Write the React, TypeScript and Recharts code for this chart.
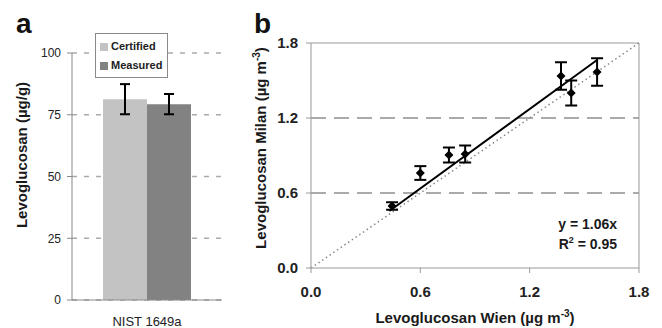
import {
  BarChart,
  Bar,
  ErrorBar,
  XAxis,
  YAxis,
  CartesianGrid,
  Legend,
  ScatterChart,
  Scatter,
  ReferenceLine
} from 'recharts'

const FONT = '"Liberation Sans", Arial, sans-serif'

// panel a
const categories = ['NIST 1649a']
const certified = [81.3]
const certifiedErr = [6.1]
const measured = [79.3]
const measuredErr = [4.1]
const barTicks = [0, 25, 50, 75, 100]

// panel b
const wien = [0.445, 0.6, 0.757, 0.846, 1.372, 1.428, 1.57]
const milan = [0.496, 0.76, 0.904, 0.912, 1.536, 1.4, 1.568]
const milanErr = [0.03, 0.055, 0.06, 0.068, 0.11, 0.1, 0.11]
const fitX = [0.43, 1.57]
const slope = 1.06
const scatterTicks = [0, 0.6, 1.2, 1.8]

const barData = categories.map((name, i) => ({
  name,
  certified: certified[i],
  certErr: certifiedErr[i],
  measured: measured[i],
  measErr: measuredErr[i]
}))

const points = wien.map((x, i) => ({ x, y: milan[i], err: milanErr[i] }))
const fitLine = fitX.map((x) => ({ x, y: slope * x }))

const Diamond = (props: any) => {
  const { cx, cy } = props
  if (cx == null || cy == null) return <g />
  const r = 4.5
  return <polygon points={`${cx},${cy - r} ${cx + r},${cy} ${cx},${cy + r} ${cx - r},${cy}`} fill="#000" />
}

const LegendBox = (props: any) => {
  const items = props.payload ?? []
  return (
    <div
      style={{
        border: '1px solid #8a8a8a',
        background: '#fff',
        padding: '3px 5px 2px 4px',
        fontFamily: FONT,
        fontSize: 11,
        fontWeight: 'bold',
        color: '#222',
        lineHeight: '19px'
      }}
    >
      {items.map((it: any) => (
        <div key={it.value} style={{ display: 'flex', alignItems: 'center' }}>
          <span style={{ width: 8, height: 8, background: it.color, display: 'inline-block', marginRight: 3 }} />
          {it.value}
        </div>
      ))}
    </div>
  )
}

export default function App() {
  return (
    <div
      style={{
        position: 'absolute',
        left: 0,
        top: 0,
        width: 662,
        height: 328,
        overflow: 'hidden',
        background: '#fff',
        fontFamily: FONT
      }}
    >
      <div style={{ position: 'absolute', left: 0, top: 0 }}>
        <BarChart
          width={230}
          height={328}
          data={barData}
          margin={{ top: 53, right: 8, bottom: 8, left: 42 }}
          barCategoryGap={31}
          barGap={0}
        >
          <CartesianGrid vertical={false} stroke="#aaa" strokeWidth={1.5} strokeDasharray="5 7" />
          <XAxis
            dataKey="name"
            height={20}
            tickSize={0}
            tickMargin={17}
            axisLine={{ stroke: '#888' }}
            tick={{ fontSize: 13, fill: '#222', fontFamily: FONT }}
          />
          <YAxis
            width={30}
            domain={[0, 100]}
            ticks={barTicks}
            tickSize={5}
            tickMargin={6}
            axisLine={{ stroke: '#888' }}
            tickLine={{ stroke: '#888' }}
            tick={{ fontSize: 12, fill: '#222', fontFamily: FONT }}
          />
          <YAxis
            yAxisId="r"
            orientation="right"
            width={0}
            domain={[0, 100]}
            tick={false}
            tickLine={false}
            axisLine={{ stroke: '#aaa' }}
          />
          <Legend
            layout="vertical"
            align="center"
            verticalAlign="middle"
            content={<LegendBox />}
            wrapperStyle={{ left: 95, top: 33, width: 'auto', height: 'auto' }}
          />
          <Bar dataKey="certified" name="Certified" fill="#c3c3c3" isAnimationActive={false}>
            <ErrorBar dataKey="certErr" width={5} strokeWidth={2} stroke="#000" />
          </Bar>
          <Bar dataKey="measured" name="Measured" fill="#828282" isAnimationActive={false}>
            <ErrorBar dataKey="measErr" width={5} strokeWidth={2} stroke="#000" />
          </Bar>
        </BarChart>
      </div>

      <div style={{ position: 'absolute', left: 230, top: 0 }}>
        <ScatterChart width={432} height={328} margin={{ top: 43, right: 23, bottom: 30, left: 36 }}>
          <XAxis
            type="number"
            dataKey="x"
            domain={[0, 1.8]}
            ticks={scatterTicks}
            allowDataOverflow
            height={30}
            tickSize={5}
            tickMargin={13}
            tickFormatter={(v: number) => v.toFixed(1)}
            axisLine={{ stroke: '#999' }}
            tickLine={{ stroke: '#999' }}
            tick={{ fontSize: 15, fontWeight: 'bold', fill: '#222', fontFamily: FONT }}
          />
          <YAxis
            type="number"
            dataKey="y"
            domain={[0, 1.8]}
            ticks={scatterTicks}
            allowDataOverflow
            width={45}
            tickSize={5}
            tickMargin={8}
            tickFormatter={(v: number) => v.toFixed(1)}
            axisLine={{ stroke: '#999' }}
            tickLine={{ stroke: '#999' }}
            tick={{ fontSize: 15, fontWeight: 'bold', fill: '#222', fontFamily: FONT }}
          />
          <ReferenceLine y={0.6} stroke="#aaa" strokeWidth={2} strokeDasharray="15 8" />
          <ReferenceLine y={1.2} stroke="#aaa" strokeWidth={2} strokeDasharray="15 8" />
          <ReferenceLine y={1.8} stroke="#999" />
          <ReferenceLine x={1.8} stroke="#999" />
          <ReferenceLine
            segment={[
              { x: 0, y: 0 },
              { x: 1.8, y: 1.8 }
            ]}
            stroke="#888"
            strokeWidth={1.5}
            strokeDasharray="1.5 3"
          />
          <Scatter
            data={fitLine}
            line={{ stroke: '#000', strokeWidth: 2 }}
            shape={() => <g />}
            isAnimationActive={false}
          />
          <Scatter data={points} shape={<Diamond />} isAnimationActive={false}>
            <ErrorBar dataKey="err" direction="y" width={6} strokeWidth={2} stroke="#000" />
          </Scatter>
        </ScatterChart>
      </div>

      <svg
        width={662}
        height={328}
        style={{ position: 'absolute', left: 0, top: 0, pointerEvents: 'none' }}
        fontFamily={FONT}
      >
        <text x={16} y={33} fontSize={28} fontWeight="bold" fill="#111">a</text>
        <text x={254} y={33} fontSize={28} fontWeight="bold" fill="#111">b</text>
        <text
          x={0}
          y={0}
          transform="translate(27,155) rotate(-90)"
          textAnchor="middle"
          fontSize={15}
          fontWeight="bold"
          fill="#1a1a1a"
        >
          Levoglucosan (µg/g)
        </text>
        <text
          x={0}
          y={0}
          transform="translate(266,148) rotate(-90)"
          textAnchor="middle"
          fontSize={15}
          fontWeight="bold"
          fill="#1a1a1a"
        >
          Levoglucosan Milan (µg m<tspan fontSize={10} dy={-6}>-3</tspan><tspan dy={6}>)</tspan>
        </text>
        <text x={475} y={323} textAnchor="middle" fontSize={15} fontWeight="bold" fill="#1a1a1a">
          Levoglucosan Wien (µg m<tspan fontSize={10} dy={-6}>-3</tspan><tspan dy={6}>)</tspan>
        </text>
        <text x={617} y={229} textAnchor="end" fontSize={14} fontWeight="bold" fill="#1a1a1a">
          y = 1.06x
        </text>
        <text x={617} y={249} textAnchor="end" fontSize={14} fontWeight="bold" fill="#1a1a1a">
          R<tspan fontSize={9} dy={-6}>2</tspan><tspan dy={6}> = 0.95</tspan>
        </text>
      </svg>
    </div>
  )
}
